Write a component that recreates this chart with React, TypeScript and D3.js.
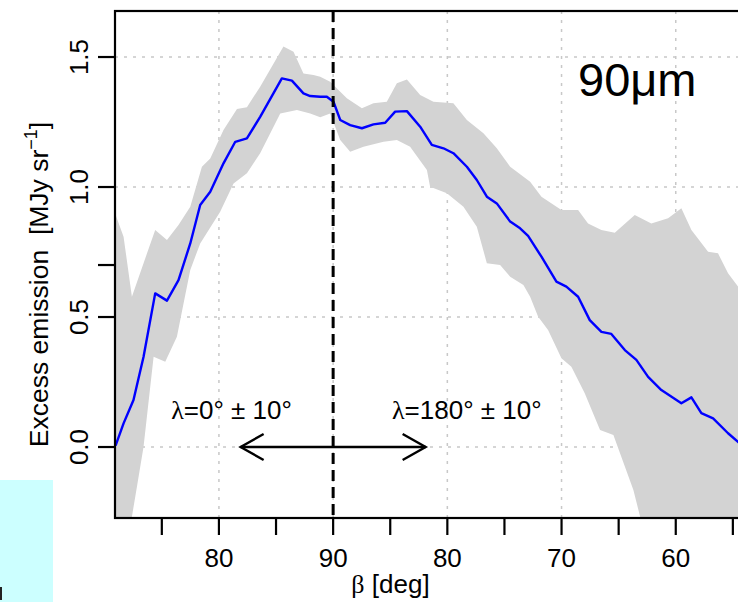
import React from 'react';
import * as d3 from 'd3';

// position along the folded β axis: p = β on the λ=0° side, p = 180 − β on the λ=180° side
const bluePath: [number, number][] = [
  [70.95, 0.005], [71.65, 0.091], [72.52, 0.181], [73.4, 0.347], [74.42, 0.591],
  [75.45, 0.563], [76.46, 0.642], [77.49, 0.783], [78.36, 0.931], [79.24, 0.982],
  [80.4, 1.091], [81.43, 1.174], [82.45, 1.187], [83.61, 1.27], [85.51, 1.418],
  [86.39, 1.409], [87.4, 1.36], [87.99, 1.35], [88.87, 1.347], [89.45, 1.347],
  [90.03, 1.328], [90.62, 1.258], [91.49, 1.238], [92.52, 1.226], [93.53, 1.241],
  [94.56, 1.247], [95.43, 1.29], [96.46, 1.292], [97.62, 1.232], [98.64, 1.162],
  [99.66, 1.149], [100.53, 1.13], [101.71, 1.078], [102.58, 1.027], [103.46, 0.963],
  [104.33, 0.937], [105.5, 0.867], [106.37, 0.841], [107.07, 0.812], [108.24, 0.732],
  [109.55, 0.636], [110.42, 0.617], [111.45, 0.578], [112.47, 0.488], [113.49, 0.443],
  [114.36, 0.435], [115.54, 0.373], [116.55, 0.335], [117.58, 0.27], [118.74, 0.219],
  [120.49, 0.168], [121.37, 0.191], [122.24, 0.13], [123.27, 0.11], [124.58, 0.053],
  [125.45, 0.02], [126.5, -0.02],
];

const bandUpper: [number, number][] = [
  [70.9, 0.899], [71.65, 0.809], [72.38, 0.578], [73.4, 0.707], [74.42, 0.835],
  [75.45, 0.796], [76.46, 0.854], [77.49, 0.924], [78.51, 1.078], [79.24, 1.11],
  [80.4, 1.219], [81.58, 1.3], [82.45, 1.307], [83.61, 1.386], [85.65, 1.54],
  [86.53, 1.52], [87.4, 1.437], [88.28, 1.431], [88.87, 1.424], [89.74, 1.405],
  [91.2, 1.341], [92.52, 1.303], [93.53, 1.322], [94.7, 1.328], [95.58, 1.399],
  [96.46, 1.414], [97.62, 1.354], [98.78, 1.328], [100.53, 1.322], [101.71, 1.258],
  [103.16, 1.207], [104.33, 1.149], [105.5, 1.078], [107.25, 1.02], [108.24, 0.963],
  [109.99, 0.912], [111.45, 0.912], [112.32, 0.86], [113.49, 0.835], [114.66, 0.824],
  [116.41, 0.892], [117.86, 0.86], [119.33, 0.88], [120.49, 0.918], [121.37, 0.835],
  [122.83, 0.751], [123.7, 0.745], [124.58, 0.668], [125.45, 0.617], [126.5, 0.55],
];

const bandLower: [number, number][] = [
  [70.9, -0.6], [72.38, -0.268], [72.82, -0.153], [73.4, 0.001], [74.28, 0.347],
  [75.3, 0.328], [76.32, 0.424], [77.49, 0.681], [78.36, 0.783], [80.11, 0.905],
  [81.28, 1.014], [82.45, 1.053], [83.61, 1.13], [85.37, 1.283], [86.83, 1.296],
  [87.99, 1.283], [88.87, 1.268], [89.74, 1.283], [90.62, 1.181], [91.49, 1.136],
  [92.66, 1.155], [94.41, 1.174], [95.58, 1.181], [96.74, 1.155], [98.21, 1.065],
  [98.49, 1.001], [99.96, 0.976], [101.41, 0.924], [102.58, 0.847], [103.46, 0.707],
  [104.62, 0.7], [105.5, 0.655], [106.66, 0.623], [107.25, 0.578], [107.95, 0.501],
  [108.82, 0.45], [109.99, 0.341], [110.86, 0.309], [112.03, 0.207], [113.37, 0.065],
  [114.54, 0.046], [116.29, -0.165], [116.88, -0.268], [118.5, -0.5], [126.5, -0.6],
];

const xTicks = [75, 80, 85, 90, 95, 100, 105, 110, 115, 120, 125];
const xLabelTicks = [80, 90, 100, 110, 120];
const xTickLabels = ['80', '90', '80', '70', '60'];
const yTicks = [0, 0.5, 0.7, 1.0, 1.5];
const yLabelTicks = [0, 0.5, 1.0, 1.5];
const yTickLabels = ['0.0', '0.5', '1.0', '1.5'];
const xGrid = [80, 90, 100, 110, 120];
const yGrid = [0, 0.5, 1.0, 1.5];
const arrowSpan = [81.9, 98.1];
const leftNote = { p: 81.1, v: 0.108 };
const rightNote = { p: 101.7, v: 0.108 };

const FONT = '"Liberation Sans", Arial, Helvetica, sans-serif';
const SERIF = '"Liberation Serif", "Times New Roman", serif';

export default function App() {
  const left = 115, top = 11, bottom = 518, right = 738;
  const x = d3.scaleLinear().domain([70.9, 125.45]).range([left, right]);
  const y = d3.scaleLinear().domain([-0.273, 1.677]).range([bottom, top]);
  const line = d3.line<[number, number]>().x(d => x(d[0])).y(d => y(d[1]));
  const bandPts = [...bandUpper, ...bandLower.slice().reverse()];
  const bandPath = line(bandPts) + 'Z';

  const y0 = y(0);
  const ax0 = x(arrowSpan[0]);
  const ax1 = x(arrowSpan[1]);
  const hx = 23, hy = 13;

  return (
    <svg width={738} height={602} style={{ position: 'absolute', left: 0, top: 0, background: '#fff' }}
      fontFamily={FONT}>
      <defs>
        <clipPath id="plotClip">
          <rect x={left} y={top} width={760 - left} height={bottom - top} />
        </clipPath>
      </defs>
      <rect x={0} y={0} width={738} height={602} fill="#fff" />
      <rect x={0} y={480} width={53} height={122} fill="#ccffff" />
      <rect x={0} y={587} width={2} height={13} fill="#222" />

      {/* grid */}
      <g stroke="#c8c8c8" strokeWidth={1.5} strokeDasharray="3 6">
        {xGrid.map(t => (
          <line key={'gx' + t} x1={x(t)} x2={x(t)} y1={top} y2={bottom} />
        ))}
        {yGrid.map(v => (
          <line key={'gy' + v} x1={left} x2={760} y1={y(v)} y2={y(v)} />
        ))}
      </g>

      <g clipPath="url(#plotClip)">
        <path d={bandPath} fill="#d3d3d3" stroke="none" />
        <path d={line(bluePath) || ''} fill="none" stroke="#0000ff" strokeWidth={2.4} strokeLinejoin="round" />
      </g>

      {/* arrow */}
      <g stroke="#000" strokeWidth={2.4} fill="none">
        <line x1={ax0} x2={ax1} y1={y0} y2={y0} />
        <polyline points={`${ax0 + hx},${y0 - hy} ${ax0},${y0} ${ax0 + hx},${y0 + hy}`} />
        <polyline points={`${ax1 - hx},${y0 - hy} ${ax1},${y0} ${ax1 - hx},${y0 + hy}`} />
      </g>

      {/* vertical dashed line at β = 90 */}
      <line x1={x(90)} x2={x(90)} y1={top} y2={bottom} stroke="#000" strokeWidth={3} strokeDasharray="11 6" />

      {/* frame */}
      <rect x={left} y={top} width={760 - left} height={bottom - top} fill="none" stroke="#000" strokeWidth={2.2} />

      {/* axis ticks */}
      <g stroke="#000" strokeWidth={2.2}>
        {xTicks.map(t => (
          <line key={'xt' + t} x1={x(t)} x2={x(t)} y1={bottom} y2={bottom + 17} />
        ))}
        {yTicks.map(v => (
          <line key={'yt' + v} x1={left - 17} x2={left} y1={y(v)} y2={y(v)} />
        ))}
      </g>
      <g fontSize={26} fill="#000" textAnchor="middle">
        {xLabelTicks.map((t, i) => (
          <text key={'xl' + t} x={x(t)} y={567}>{xTickLabels[i]}</text>
        ))}
        {yLabelTicks.map((v, i) => (
          <text key={'yl' + v} transform={`translate(88,${y(v)}) rotate(-90)`}>{yTickLabels[i]}</text>
        ))}
      </g>

      {/* axis titles */}
      <text x={390.5} y={593} fontSize={26} textAnchor="middle" fill="#000">
        <tspan fontFamily={SERIF}>β</tspan> [deg]
      </text>
      <text transform={`translate(48,${(top + bottom) / 2 + 20}) rotate(-90)`} fontSize={26.5} textAnchor="middle" fill="#000">
        Excess emission{'\u00a0\u00a0'}[MJy sr<tspan fontSize={18} dy={-11}>−1</tspan><tspan dy={11}>]</tspan>
      </text>

      {/* annotations */}
      <text x={x(leftNote.p)} y={y(leftNote.v)} fontSize={26} textAnchor="middle" fill="#000">
        <tspan fontFamily={SERIF}>λ</tspan>=0° ± 10°
      </text>
      <text x={x(rightNote.p)} y={y(rightNote.v)} fontSize={26} textAnchor="middle" fill="#000">
        <tspan fontFamily={SERIF}>λ</tspan>=180° ± 10°
      </text>
      <text x={578} y={96} fontSize={47} fill="#000">90μm</text>
    </svg>
  );
}
